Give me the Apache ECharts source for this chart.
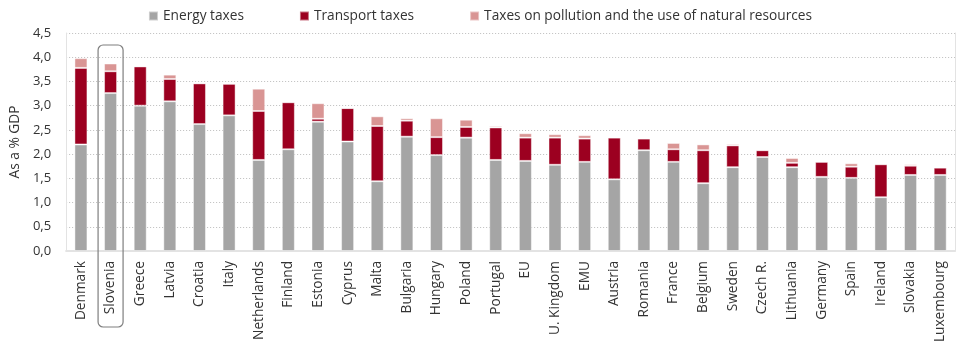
<!DOCTYPE html>
<html>
<head>
<meta charset="utf-8">
<script src="https://cdn.jsdelivr.net/npm/echarts@6/dist/echarts.min.js"></script>
<style>
  html, body { margin: 0; padding: 0; background: #fff; }
  #chart { width: 960px; height: 349px; }
</style>
</head>
<body>
<div id="chart"></div>
<script>
// Environmental taxes by country, % of GDP
const countries = ['Denmark', 'Slovenia', 'Greece', 'Latvia', 'Croatia', 'Italy', 'Netherlands', 'Finland',
  'Estonia', 'Cyprus', 'Malta', 'Bulgaria', 'Hungary', 'Poland', 'Portugal', 'EU', 'U. Kingdom', 'EMU',
  'Austria', 'Romania', 'France', 'Belgium', 'Sweden', 'Czech R.', 'Lithuania', 'Germany', 'Spain',
  'Ireland', 'Slovakia', 'Luxembourg'];
const energyTaxes = [2.20, 3.26, 3.00, 3.09, 2.62, 2.80, 1.88, 2.10, 2.67, 2.26, 1.44, 2.36, 1.98, 2.34, 1.88,
  1.86, 1.78, 1.84, 1.48, 2.08, 1.84, 1.40, 1.73, 1.94, 1.73, 1.53, 1.51, 1.11, 1.57, 1.57];
const transportTaxes = [1.58, 0.45, 0.81, 0.46, 0.84, 0.65, 1.01, 0.97, 0.06, 0.69, 1.14, 0.33, 0.37, 0.22, 0.67,
  0.48, 0.56, 0.48, 0.86, 0.24, 0.26, 0.68, 0.45, 0.14, 0.09, 0.31, 0.23, 0.68, 0.19, 0.15];
const pollutionTaxes = [0.20, 0.16, 0.01, 0.09, 0.02, 0.02, 0.46, 0.02, 0.32, 0.00, 0.20, 0.05, 0.39, 0.15, 0.03,
  0.09, 0.07, 0.07, 0.01, 0.01, 0.13, 0.12, 0.03, 0.01, 0.10, 0.01, 0.07, 0.02, 0.03, 0.02];
const seriesNames = ['Energy taxes', 'Transport taxes', 'Taxes on pollution and the use of natural resources'];
const highlighted = 'Slovenia';

const FONT = 'Open Sans';
const TEXT = '#333';
const colors = ['#A5A5A5', '#9C0020', '#D99594'];
const fmt = v => v.toFixed(1).replace('.', ',');

const chart = echarts.init(document.getElementById('chart'), null, { renderer: 'canvas' });

const mkSeries = (name, data, i) => ({
  name, type: 'bar', stack: 'total', data,
  barWidth: 13,
  itemStyle: { color: colors[i], borderColor: 'rgba(255,255,255,0.45)', borderWidth: 1 },
  emphasis: { disabled: true }
});

chart.setOption({
  animation: false,
  textStyle: { fontFamily: FONT },
  legend: {
    top: 4, left: 'center',
    itemWidth: 9, itemHeight: 9, itemGap: 55,
    icon: 'rect',
    textStyle: { fontFamily: FONT, fontSize: 13.7, color: TEXT },
    data: seriesNames
  },
  grid: { left: 61, right: 5, top: 33, bottom: 98 },
  xAxis: {
    type: 'category', data: countries,
    axisLine: { lineStyle: { color: '#E3E3E3', width: 2 } },
    axisTick: { show: false },
    axisLabel: { rotate: 90, interval: 0, fontFamily: FONT, fontSize: 13.7, color: TEXT, margin: 10 }
  },
  yAxis: [{
    type: 'value', min: 0, max: 4.5, interval: 0.5,
    name: 'As a % GDP', nameLocation: 'middle', nameGap: 38,
    nameTextStyle: { fontFamily: FONT, fontSize: 13.7, color: TEXT },
    axisLine: { show: true, lineStyle: { color: '#E3E3E3' } },
    axisTick: { show: false },
    axisLabel: { formatter: fmt, fontFamily: FONT, fontSize: 13, color: TEXT, margin: 15 },
    splitLine: { lineStyle: { color: '#BDBDBD', type: [1, 2] } }
  }, {
    type: 'value', min: 0, max: 4.5, interval: 0.5, position: 'right',
    axisLine: { show: true, lineStyle: { color: '#E3E3E3' } },
    axisTick: { show: false }, axisLabel: { show: false }, splitLine: { show: false }
  }],
  series: [
    mkSeries(seriesNames[0], energyTaxes, 0),
    mkSeries(seriesNames[1], transportTaxes, 1),
    mkSeries(seriesNames[2], pollutionTaxes, 2)
  ]
});

// Rounded frame around the highlighted country, spanning bar and label
const cx = chart.convertToPixel({ xAxisIndex: 0 }, highlighted);
const yTop = chart.convertToPixel({ yAxisIndex: 0 }, 4.5) + 12;
const yBottom = chart.convertToPixel({ yAxisIndex: 0 }, 0) + 76;
chart.setOption({
  graphic: [{
    type: 'rect', silent: true,
    shape: { x: cx - 12.5, y: yTop, width: 25, height: yBottom - yTop, r: 5 },
    style: { fill: 'none', stroke: '#7F7F7F', lineWidth: 1.2 },
    z: 100
  }]
});
</script>
</body>
</html>
